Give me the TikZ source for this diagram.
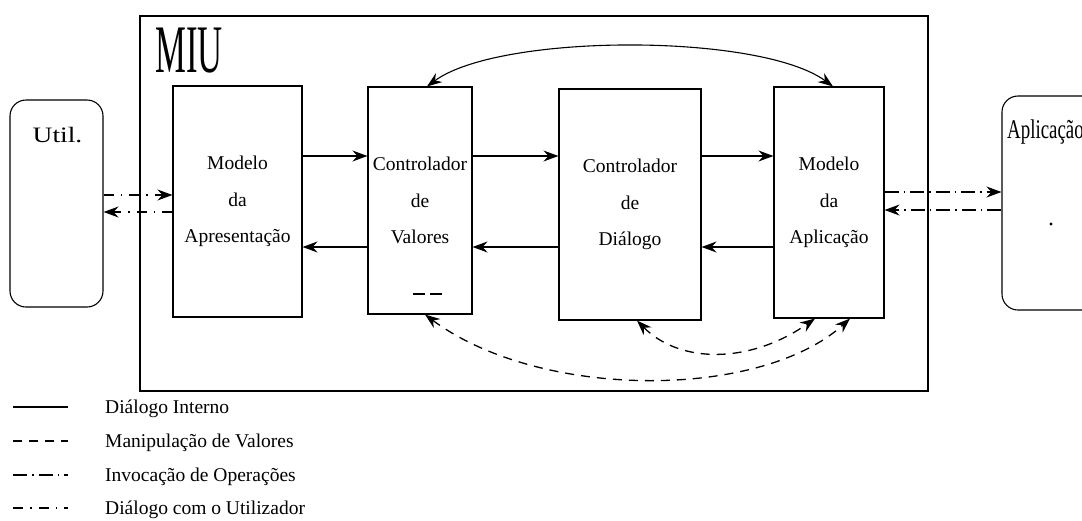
\documentclass[tikz,border=0pt]{standalone}
\usepackage{fontspec}
\setmainfont{Liberation Serif}
\usepackage{graphicx}
\usetikzlibrary{arrows.meta}
\begin{document}
\begin{tikzpicture}[x=1pt,y=-1pt,
  box/.style={draw,line width=1.1pt,inner sep=0pt,align=center,font=\fontsize{19.5}{36.5}\selectfont},
  rbox/.style={draw,line width=1.1pt,inner sep=0pt,rounded corners=16pt},
  tip/.style={-{Stealth[length=15pt,width=11pt,inset=5pt]}},
  dtip/.style={{Stealth[length=15pt,width=11pt,inset=5pt]}-{Stealth[length=15pt,width=11pt,inset=5pt]}},
  solidline/.style={line width=1.1pt},
  valline/.style={line width=1.3pt,dash pattern=on 9pt off 7pt},
  opline/.style={line width=1.3pt,dash pattern=on 14pt off 5pt on 1.5pt off 5pt},
  userline/.style={line width=1.3pt,dash pattern=on 10pt off 7pt on 1.5pt off 7pt},
  legtext/.style={anchor=base west,inner sep=0pt,font=\fontsize{19.5}{22}\selectfont}]
\useasboundingbox (0,0) rectangle (1082,520);
\clip (0,0) rectangle (1082,520);
% MIU frame
\node[draw,line width=2pt,minimum width=788pt,minimum height=375pt,inner sep=0pt] (miu) at (534,203.5) {};
\node[anchor=base west,inner sep=0pt,font=\fontsize{68}{68}\selectfont] (miulabel) at (155,72) {\scalebox{0.51}[1]{MIU}};
% outer actors
\node[rbox,minimum width=93pt,minimum height=207pt] (util) at (56.5,203.5) {};
\node[anchor=base,inner sep=0pt,font=\fontsize{22}{22}\selectfont] (utillabel) at (57.5,142) {\scalebox{1.25}[1]{Util.}};
\node[rbox,minimum width=113pt,minimum height=214pt] (app) at (1058.5,203) {};
\node[anchor=base west,inner sep=0pt,font=\fontsize{27}{27}\selectfont] (applabel) at (1007,138) {\scalebox{0.7}[1]{Aplicação}};
\fill (1051,224) circle (1.7pt);
% inner boxes
\node[box,minimum width=129pt,minimum height=231pt] (map) at (237.5,201.5) {Modelo\\da\\Apresentação};
\node[box,minimum width=104pt,minimum height=227pt] (cv) at (420,200.5) {Controlador\\de\\Valores};
\node[box,minimum width=142pt,minimum height=231pt] (cd) at (630,204.5) {Controlador\\de\\Diálogo};
\node[box,minimum width=110pt,minimum height=231pt] (ma) at (829,202.5) {Modelo\\da\\Aplicação};
\draw[line width=1.1pt,dash pattern=on 12pt off 5pt] (413,294) -- (442,294);
% internal dialogue
\draw[solidline,tip] (map.east |- 0,156) -- (cv.west |- 0,156);
\draw[solidline,tip] (cv.east |- 0,156) -- (cd.west |- 0,156);
\draw[solidline,tip] (cd.east |- 0,156) -- (ma.west |- 0,156);
\draw[solidline,tip] (cv.west |- 0,247) -- (map.east |- 0,247);
\draw[solidline,tip] (cd.west |- 0,247) -- (cv.east |- 0,247);
\draw[solidline,tip] (ma.west |- 0,247) -- (cd.east |- 0,247);
\draw[solidline,dtip] (cv.north -| 427,0) .. controls (500,33) and (760,33) .. (ma.north -| 833,0);
% value manipulation
\draw[valline,dtip] (cv.south -| 425,0) .. controls (540,400) and (760,400) .. (ma.south -| 850,0);
\draw[valline,dtip] (cd.south -| 637,0) .. controls (680,364) and (750,364) .. (ma.south -| 815,0);
% user dialogue
\draw[userline,tip] (util.east |- 0,195) -- (map.west |- 0,195);
\draw[userline,tip] (map.west |- 0,212) -- (util.east |- 0,212);
% operation invocation
\draw[opline,tip] (ma.east |- 0,192) -- (app.west |- 0,192);
\draw[opline,tip] (app.west |- 0,210) -- (ma.east |- 0,210);
% legend
\coordinate (l1a) at (13,407); \coordinate (l1b) at (68,407);
\coordinate (l2a) at (13,441); \coordinate (l2b) at (68,441);
\coordinate (l3a) at (13,475); \coordinate (l3b) at (68,475);
\coordinate (l4a) at (13,508); \coordinate (l4b) at (68,508);
\draw[solidline] (l1a) -- (l1b);
\draw[valline] (l2a) -- (l2b);
\draw[opline] (l3a) -- (l3b);
\draw[userline] (l4a) -- (l4b);
\node[legtext] (t1) at (105,413) {Diálogo Interno};
\node[legtext] (t2) at (105,447) {Manipulação de Valores};
\node[legtext] (t3) at (105,481) {Invocação de Operações};
\node[legtext] (t4) at (105,514) {Diálogo com o Utilizador};
\end{tikzpicture}
\end{document}
